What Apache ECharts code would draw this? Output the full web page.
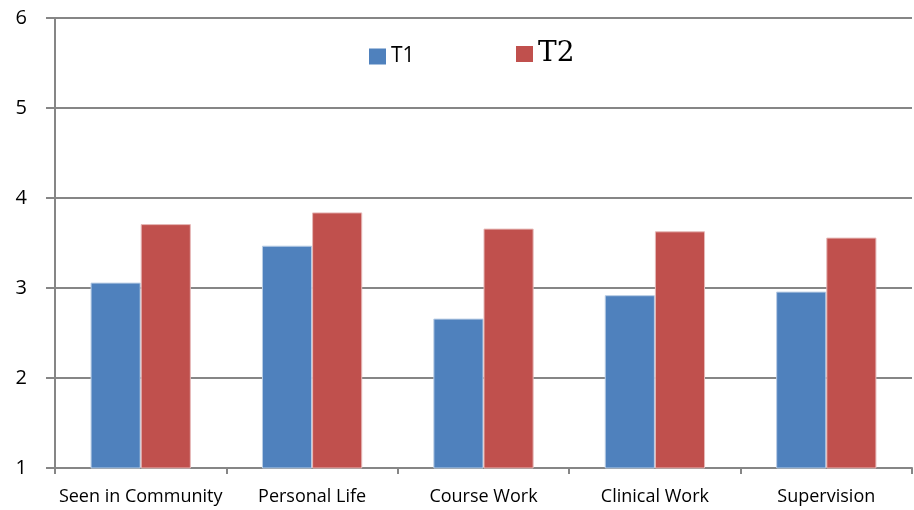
<!DOCTYPE html>
<html>
<head>
<meta charset="utf-8">
<script src="https://cdn.jsdelivr.net/npm/echarts@6/dist/echarts.min.js"></script>
<style>
  html, body { margin: 0; padding: 0; background: #fff; }
  #chart { width: 914px; height: 510px; }
</style>
</head>
<body>
<div id="chart"></div>
<script>
const categories = ["Seen in Community", "Personal Life", "Course Work", "Clinical Work", "Supervision"];
const t1Values = [3.06, 3.47, 2.66, 2.92, 2.96];
const t2Values = [3.71, 3.84, 3.66, 3.63, 3.56];

const gridColor = "#868686";
const font = "'Open Sans', 'Noto Sans', sans-serif";

let myChart = echarts.init(document.getElementById("chart"));
myChart.setOption({
  animation: false,
  grid: { left: 55, top: 18, right: 2, height: 450 },
  legend: [
    {
      data: ["T1"], left: 364, top: 41, itemWidth: 17, itemHeight: 16, icon: "rect", itemGap: 6,
      itemStyle: { borderWidth: 0 },
      textStyle: { fontFamily: font, fontSize: 21, color: "#000" }
    },
    {
      data: ["T2"], left: 511, top: 35, itemWidth: 17, itemHeight: 16, icon: "rect", itemGap: 6,
      itemStyle: { borderWidth: 0 },
      textStyle: { fontFamily: "'DejaVu Serif', 'Liberation Serif', serif", fontSize: 28, color: "#000" }
    }
  ],
  xAxis: {
    type: "category",
    data: categories,
    axisLine: { lineStyle: { color: gridColor, width: 2 } },
    axisTick: { show: true, interval: 0, length: 6, lineStyle: { color: gridColor, width: 2 } },
    axisLabel: { interval: 0, fontFamily: font, fontSize: 18, color: "#000", margin: 20 }
  },
  yAxis: {
    type: "value",
    min: 1, max: 6, interval: 1,
    axisLine: { show: true, lineStyle: { color: gridColor, width: 2 } },
    axisTick: { show: true, length: 9, lineStyle: { color: gridColor, width: 2 } },
    axisLabel: { fontFamily: font, fontSize: 20, color: "#000", margin: 28 },
    splitLine: { lineStyle: { color: gridColor, width: 2 } }
  },
  series: [
    {
      name: "T1", type: "bar", data: t1Values,
      barGap: "0%", barCategoryGap: "41.5%",
      itemStyle: { color: "#4F81BD", borderColor: "#B9CDE5", borderWidth: 1 }
    },
    {
      name: "T2", type: "bar", data: t2Values,
      itemStyle: { color: "#C0504D", borderColor: "#E6B9B8", borderWidth: 1 }
    }
  ]
});
</script>
</body>
</html>
